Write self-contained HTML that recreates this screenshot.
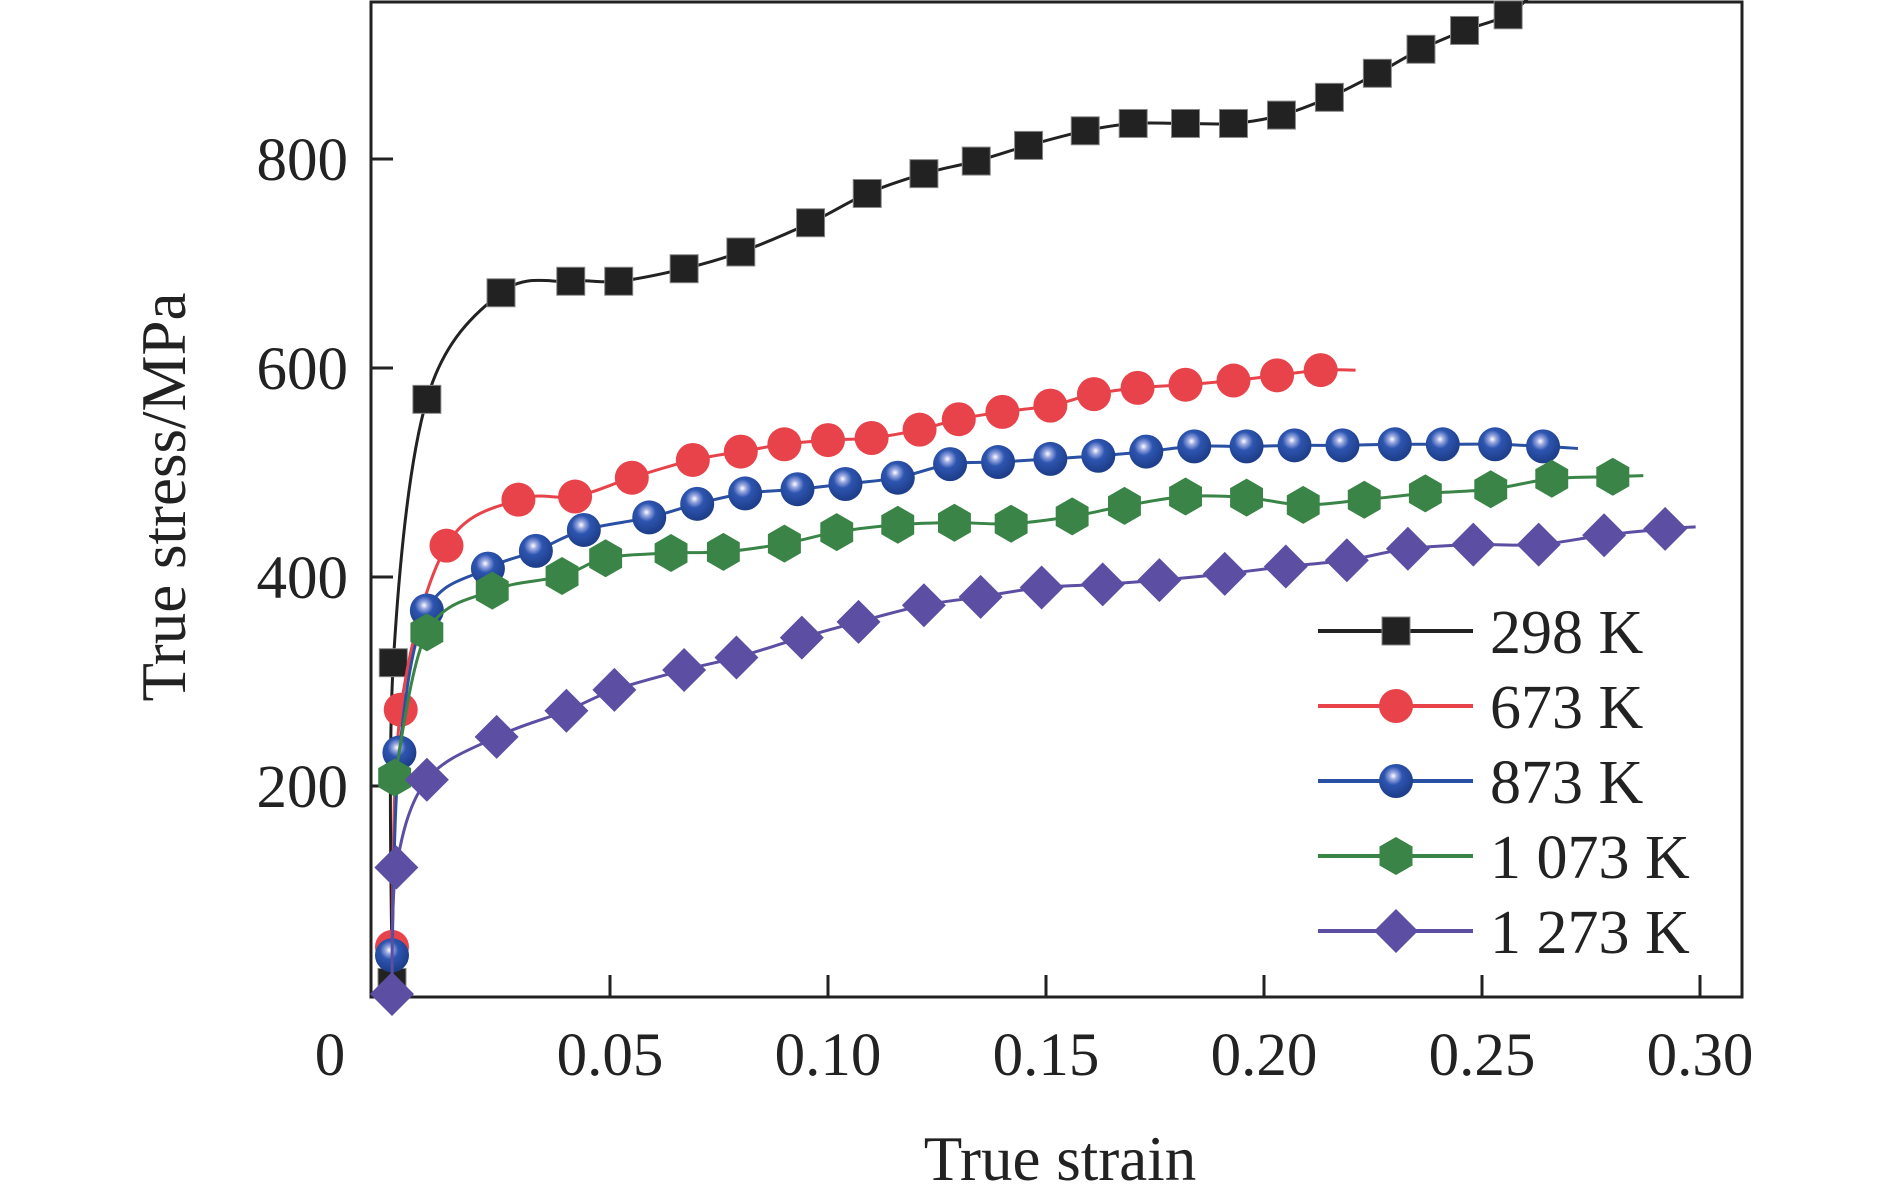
<!DOCTYPE html>
<html><head><meta charset="utf-8"><style>
html,body{margin:0;padding:0;background:#fff;}
svg{display:block;font-family:"Liberation Serif",serif;}
</style></head><body>
<svg id="chart" width="1890" height="1197" viewBox="0 0 1890 1197">
<g id="marks"></g>
</svg>
<script>
const xTicks=[0.05,0.10,0.15,0.20,0.25,0.30];
const xTickLabels=["0.05","0.10","0.15","0.20","0.25","0.30"];
const yTicks=[200,400,600,800];
const yTickLabels=["200","400","600","800"];
const seriesNames=["298 K","673 K","873 K","1 073 K","1 273 K"];
const s298x=[0,0.0003,0.008,0.025,0.041,0.052,0.067,0.080,0.096,0.109,0.122,0.134,0.146,0.159,0.170,0.182,0.193,0.204,0.215,0.226,0.236,0.246,0.256];
const s298y=[12,318,570,672,683,683,695,711,739,767,786,798,813,827,834,834,834,842,859,882,905,923,938];
const s673x=[0,0.002,0.0125,0.029,0.042,0.055,0.069,0.080,0.090,0.100,0.110,0.121,0.130,0.140,0.151,0.161,0.171,0.182,0.193,0.203,0.213];
const s673y=[46,273,430,474,477,495,512,520,527,531,533,541,551,558,564,575,581,584,588,593,598];
const s873x=[0,0.0017,0.008,0.022,0.033,0.044,0.059,0.070,0.081,0.093,0.104,0.116,0.128,0.139,0.151,0.162,0.173,0.184,0.196,0.207,0.218,0.230,0.241,0.253,0.264];
const s873y=[38,232,368,408,425,445,457,470,480,484,489,495,508,510,513,516,520,525,525,526,526,527,527,527,525];
const s1073x=[0.0006,0.008,0.023,0.039,0.049,0.064,0.076,0.090,0.102,0.116,0.129,0.142,0.156,0.168,0.182,0.196,0.209,0.223,0.237,0.252,0.266,0.280];
const s1073y=[208,347,387,401,418,423,424,432,443,450,452,451,458,468,477,476,469,474,480,484,494,496];
const s1273x=[0,0.001,0.008,0.024,0.040,0.051,0.067,0.079,0.094,0.107,0.122,0.135,0.149,0.163,0.176,0.191,0.205,0.219,0.233,0.248,0.263,0.278,0.292];
const s1273y=[1,122,206,247,272,292,311,323,342,357,373,381,390,393,397,403,410,416,427,431,431,440,446];

const X0=392,XS=218/0.05,Y0=995,YS=(995-159)/800;
const L=371,R=1742,T=2,B=997;
function sx(v){return X0+v*XS;}
function sy(v){return Y0-v*YS;}
const NS="http://www.w3.org/2000/svg";
const svg=document.getElementById('chart');
function mk(tag,attrs,parent){const e=document.createElementNS(NS,tag);for(const k in attrs)e.setAttribute(k,attrs[k]);(parent||svg).appendChild(e);return e;}

const defs=mk('defs',{});
const rg=mk('radialGradient',{id:'bg',cx:'0.42',cy:'0.35',r:'0.6'},defs);
mk('stop',{offset:'0','stop-color':'#ffffff'},rg);
mk('stop',{offset:'0.18','stop-color':'#9aa8e0'},rg);
mk('stop',{offset:'0.45','stop-color':'#2d55b0'},rg);
mk('stop',{offset:'1','stop-color':'#1f3f8c'},rg);

const frame=mk('rect',{x:L,y:T,width:R-L,height:B-T,fill:'none',stroke:'#222','stroke-width':3});



xTicks.forEach((v,i)=>{
  const t=mk('line',{x1:sx(v),x2:sx(v),y1:B,y2:B-22,stroke:'#222','stroke-width':3});
  
  
  const lb=mk('text',{x:sx(v),y:1075,'text-anchor':'middle','font-size':61,fill:'#222'});
  lb.textContent=xTickLabels[i];
  
  
});
const z=mk('text',{x:330,y:1075,'text-anchor':'middle','font-size':61,fill:'#222'});
z.textContent='0';


yTicks.forEach((v,i)=>{
  const t=mk('line',{x1:L,x2:L+22,y1:sy(v),y2:sy(v),stroke:'#222','stroke-width':3});
  
  
  const lb=mk('text',{x:348,y:sy(v)+21,'text-anchor':'end','font-size':61,fill:'#222'});
  lb.textContent=yTickLabels[i];
  
  
});
const xt=mk('text',{x:1060,y:1180,'text-anchor':'middle','font-size':63,fill:'#222'});
xt.textContent='True strain';


const yt=mk('text',{x:0,y:0,'text-anchor':'middle','font-size':63,fill:'#222',transform:'translate(185,497) rotate(-90)'});
yt.textContent='True stress/MPa';



function pathFor(pts){
  let d='M'+pts[0][0]+','+pts[0][1];
  for(let i=0;i<pts.length-1;i++){
    const p0=pts[Math.max(0,i-1)],p1=pts[i],p2=pts[i+1],p3=pts[Math.min(pts.length-1,i+2)];
    const c1=[p1[0]+(p2[0]-p0[0])/6,p1[1]+(p2[1]-p0[1])/6];
    const c2=[p2[0]-(p3[0]-p1[0])/6,p2[1]-(p3[1]-p1[1])/6];
    d+=' C'+c1[0]+','+c1[1]+' '+c2[0]+','+c2[1]+' '+p2[0]+','+p2[1];
  }
  return d;
}
function marker(kind,cx,cy,color,g){
  let e;
  if(kind==='sq'){e=mk('rect',{x:cx-14,y:cy-14,width:28,height:28,fill:'#222',stroke:'#888','stroke-width':1},g);}
  else if(kind==='ci'){e=mk('circle',{cx:cx,cy:cy,r:17,fill:color},g);}
  else if(kind==='bl'){e=mk('circle',{cx:cx,cy:cy,r:17,fill:'url(#bg)'},g);}
  else if(kind==='hx'){const r=19;let p=[];for(let k=0;k<6;k++){const a=Math.PI/3*k-Math.PI/2;p.push((cx+r*Math.cos(a)).toFixed(1)+','+(cy+r*Math.sin(a)).toFixed(1));}e=mk('polygon',{points:p.join(' '),fill:color},g);}
  else {const r=22;e=mk('polygon',{points:`${cx},${cy-r} ${cx+r},${cy} ${cx},${cy+r} ${cx-r},${cy}`,fill:color},g);}
  return e;
}
const series=[
 {x:s298x,y:s298y,c:'#222',m:'sq',endx:0.262,endy:960,id:'series-298k'},
 {x:s673x,y:s673y,c:'#e8434a',m:'ci',endx:0.221,endy:598,id:'series-673k'},
 {x:s873x,y:s873y,c:'#2a50a3',m:'bl',endx:0.272,endy:523,id:'series-873k'},
 {x:s1073x,y:s1073y,c:'#3a8447',m:'hx',endx:0.287,endy:497,id:'series-1073k'},
 {x:s1273x,y:s1273y,c:'#5b4ea3',m:'di',endx:0.299,endy:448,id:'series-1273k'}
];
series.forEach((s,si)=>{
  const g=mk('g',{});
  
  
  const pts=s.x.map((v,i)=>[sx(v),sy(s.y[i])]);
  pts.push([sx(s.endx),sy(s.endy)]);
  const p=mk('path',{d:pathFor(pts),fill:'none',stroke:s.c,'stroke-width':3},g);
  
  
  s.x.forEach((v,i)=>{
    const e=marker(s.m,sx(v),sy(s.y[i]),s.c,g);
    
    
  });
  const ly=631+si*75;
  const lg=mk('g',{});
  
  
  mk('line',{x1:1318,x2:1473,y1:ly,y2:ly,stroke:s.c,'stroke-width':4},lg);
  marker(s.m,1396,ly,s.c,lg);
  const t=mk('text',{x:1490,y:ly+22,'font-size':62,fill:'#222'},lg);
  t.textContent=seriesNames[si];
});
</script>
</body></html>
